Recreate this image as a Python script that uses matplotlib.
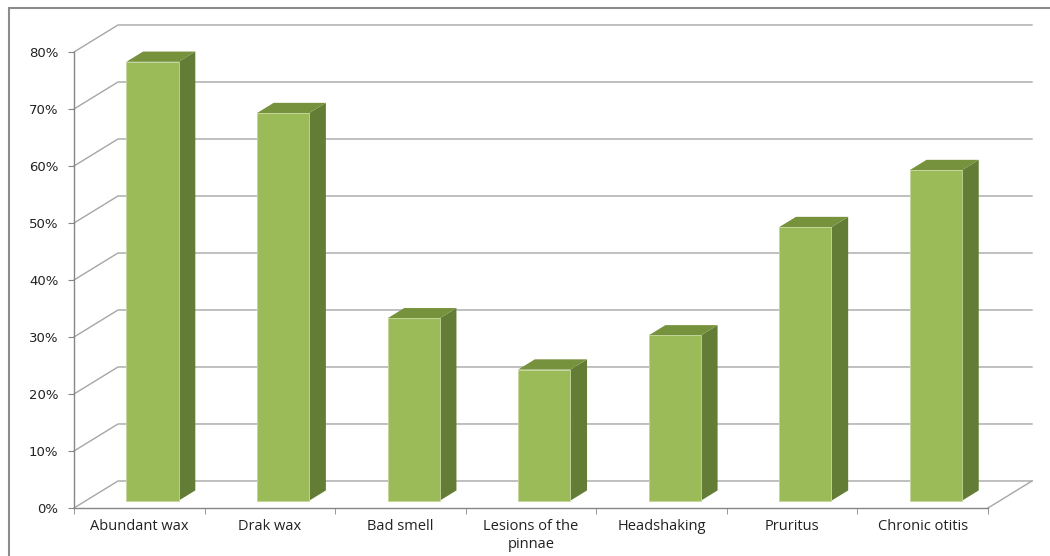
import matplotlib.pyplot as plt
from matplotlib.patches import Rectangle, Polygon

# Signos clinicos observados (porcentaje de casos)
categorias = ['Abundant wax', 'Drak wax', 'Bad smell', 'Lesions of the\npinnae',
              'Headshaking', 'Pruritus', 'Chronic otitis']
porcentajes = [77, 68, 32, 23, 29, 48, 58]
ticks_y = [0, 10, 20, 30, 40, 50, 60, 70, 80]

# Colores estilo Excel
verde_frente = '#9BBB59'
verde_lado = '#647D36'
verde_arriba = '#76923C'
gris_rejilla = '#A6A6A6'
gris_eje = '#868686'

fig = plt.figure(figsize=(10.5, 5.56), dpi=100)
ax = fig.add_axes([74 / 1050, 48 / 556, 914 / 1050, 456 / 556])
ax.set_xlim(0, len(categorias))
ax.set_ylim(0, 80)

# profundidad del efecto 3D en unidades de datos
DX = 0.337
DY = 4.74
n = len(categorias)

# pared del fondo: lineas de rejilla con su diagonal en la pared izquierda
for v in ticks_y:
    ax.plot([0, DX, n + DX], [v, v + DY, v + DY], color=gris_rejilla,
            lw=1, clip_on=False, zorder=1)
# borde derecho del piso
ax.plot([n, n + DX], [0, DY], color=gris_rejilla, lw=1, clip_on=False, zorder=1)

# barras con cara frontal, lateral y superior
ancho = 0.4
f0, f1 = 0.27, 0.65
d = f1 - f0
for i, v in enumerate(porcentajes):
    x0 = i + 0.51 - ancho / 2 + f0 * DX
    y0 = f0 * DY
    lado = Polygon([(x0 + ancho, y0), (x0 + ancho + d * DX, y0 + d * DY),
                    (x0 + ancho + d * DX, y0 + v + d * DY), (x0 + ancho, y0 + v)],
                   closed=True, fc=verde_lado, ec='none', clip_on=False, zorder=3)
    arriba = Polygon([(x0, y0 + v), (x0 + ancho, y0 + v),
                      (x0 + ancho + d * DX, y0 + v + d * DY), (x0 + d * DX, y0 + v + d * DY)],
                     closed=True, fc=verde_arriba, ec='none', clip_on=False, zorder=3)
    frente = Rectangle((x0, y0), ancho, v, fc=verde_frente, ec='#C3D69B',
                       lw=0.6, clip_on=False, zorder=4)
    ax.add_patch(lado)
    ax.add_patch(arriba)
    ax.add_patch(frente)

# ejes
for s in ['top', 'right']:
    ax.spines[s].set_visible(False)
for s in ['left', 'bottom']:
    ax.spines[s].set_color(gris_eje)
    ax.spines[s].set_linewidth(1)
ax.patch.set_visible(False)

ax.set_yticks(ticks_y)
ax.set_yticklabels([f'{t}%' for t in ticks_y])
ax.tick_params(axis='y', direction='out', length=4.3, color=gris_eje,
               labelsize=9.5, pad=7, labelcolor='#222222')

ax.set_xticks([i + 0.5 for i in range(n)])
ax.set_xticklabels(categorias, fontsize=10.5, family='Open Sans', color='#222222',
                   linespacing=1.25, va='top')
ax.set_xticks(range(n + 1), minor=True)
ax.tick_params(axis='x', which='major', length=0, pad=8)
ax.tick_params(axis='x', which='minor', direction='out', length=4, color=gris_eje)

# marco exterior
fig.add_artist(Rectangle((9 / 1050, -0.05), 1.0, 1 - 8 / 556 + 0.05,
                         transform=fig.transFigure, fill=False, ec='#8C8C8C', lw=1.5))

fig.savefig('out.png', dpi=100, facecolor='white')
